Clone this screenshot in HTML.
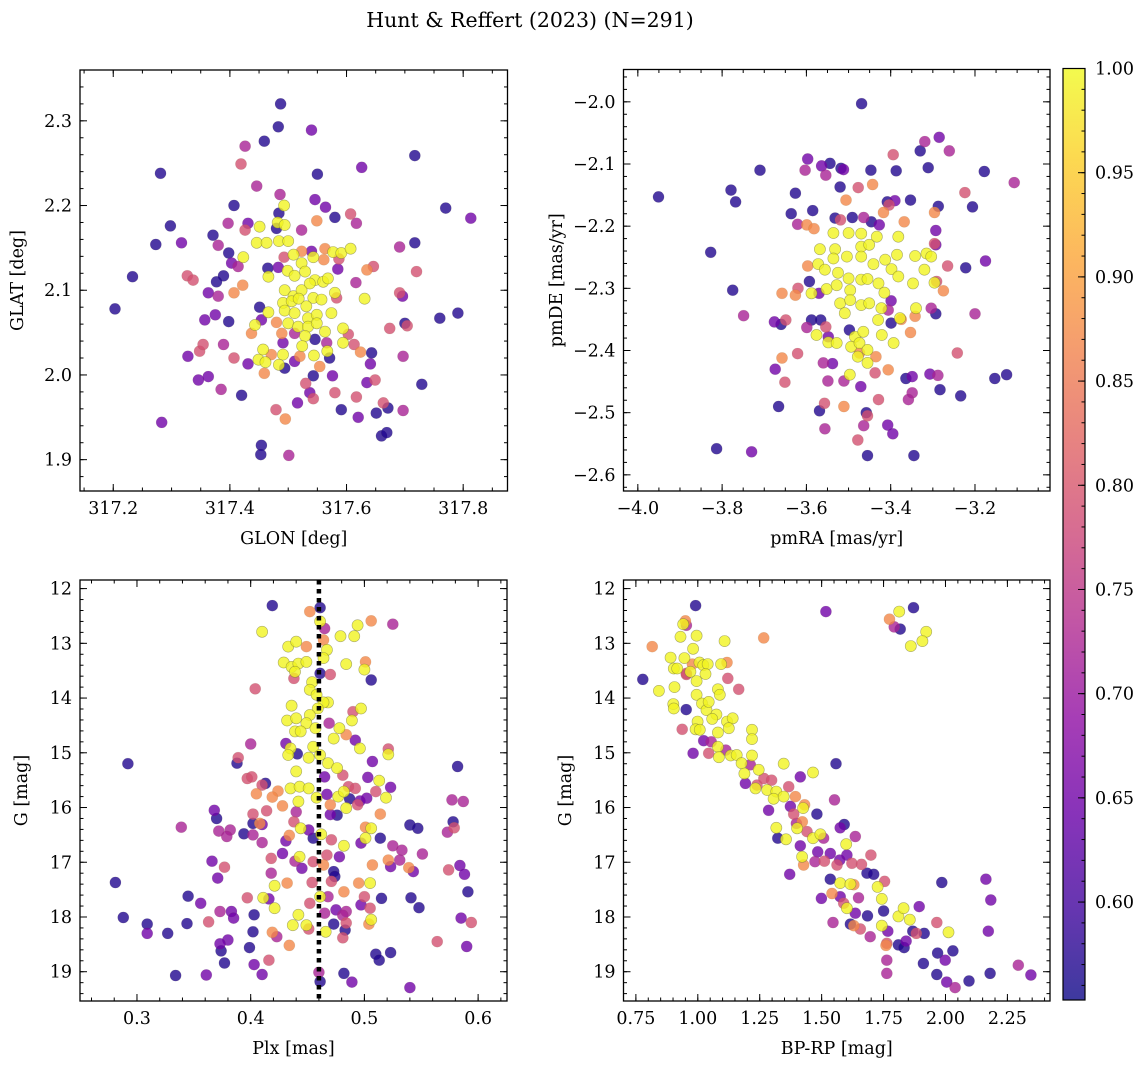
<!DOCTYPE html>
<html><head><meta charset="utf-8"><style>
html,body{margin:0;padding:0;background:#fff;}
svg{display:block;font-family:"DejaVu Serif","Liberation Serif",serif;}
</style></head><body>
<svg id="fig" width="1148" height="1068" viewBox="0 0 1148 1068" xmlns="http://www.w3.org/2000/svg">
<defs><linearGradient id="plasmaGrad" x1="0" y1="1" x2="0" y2="0"></linearGradient></defs>
<text x="530" y="27" font-size="20.5" text-anchor="middle">Hunt &amp; Reffert (2023) (N=291)</text>
</svg>
<script>
// ---------- data ----------
const glon = [317.487,317.483,317.540,317.459,317.426,317.419,317.281,317.550,317.626,317.717,
317.446,317.486,317.407,317.546,317.564,317.580,317.607,317.617,317.770,317.813,
317.298,317.317,317.273,317.371,317.397,317.380,317.398,317.403,317.414,317.426,
317.431,317.523,317.233,317.327,317.337,317.389,317.377,317.363,317.380,317.407,
317.422,317.203,317.357,317.375,317.398,317.451,317.454,317.437,317.443,317.328,
317.348,317.354,317.389,317.407,317.431,317.346,317.363,317.385,317.420,317.283,
317.454,317.453,317.501,317.479,317.495,317.516,317.530,317.537,317.543,317.543,
317.576,317.580,317.591,317.617,317.620,317.635,317.649,317.651,317.671,317.663,
317.660,317.669,317.697,317.729,317.697,317.674,317.700,317.704,317.760,317.791,
317.691,317.696,317.720,317.691,317.717,317.646,317.635,317.616,317.631,317.624,
317.643,317.641,317.613,317.594,317.603,317.594,317.585,317.587,317.563,317.561,
317.549,317.480,317.484,317.482,317.493,317.494,317.451,317.446,317.463,317.484,
317.500,317.423,317.465,317.483,317.466,317.493,317.509,317.523,317.543,317.540,
317.577,317.591,317.607,317.499,317.511,317.523,317.529,317.546,317.560,317.568,
317.494,317.509,317.523,317.537,317.543,317.557,317.580,317.583,317.491,317.506,
317.518,317.531,317.466,317.494,317.511,317.534,317.549,317.574,317.480,317.500,
317.517,317.534,317.549,317.563,317.489,317.511,317.529,317.546,317.566,317.491,
317.524,317.457,317.471,317.491,317.449,317.461,317.484,317.459,317.494,317.511,
317.520,317.544,317.554,317.567,317.571];
const glat = [2.320,2.293,2.289,2.276,2.270,2.249,2.238,2.237,2.245,2.259,
2.223,2.213,2.200,2.207,2.198,2.186,2.190,2.179,2.197,2.185,
2.176,2.156,2.154,2.165,2.179,2.153,2.144,2.132,2.128,2.171,
2.179,2.171,2.116,2.117,2.112,2.117,2.110,2.097,2.093,2.097,
2.106,2.078,2.065,2.071,2.063,2.080,2.065,2.049,2.059,2.022,
2.028,2.036,2.036,2.020,2.013,1.994,1.998,1.983,1.976,1.944,
1.917,1.906,1.905,1.959,1.948,1.967,1.990,1.979,1.972,1.999,
1.999,1.979,1.959,1.974,1.950,1.991,1.994,1.955,1.961,1.967,
1.928,1.932,1.958,1.989,2.022,2.055,2.061,2.058,2.067,2.073,
2.097,2.093,2.122,2.151,2.156,2.128,2.124,2.109,2.090,2.027,
2.026,2.013,2.036,2.038,2.048,2.055,2.125,2.137,2.149,2.136,
2.182,2.173,2.191,2.180,2.200,2.177,2.175,2.156,2.156,2.158,
2.158,2.139,2.126,2.127,2.116,2.139,2.142,2.146,2.139,2.146,
2.145,2.144,2.149,2.123,2.117,2.132,2.122,2.112,2.110,2.114,
2.100,2.093,2.100,2.108,2.091,2.089,2.097,2.091,2.085,2.087,
2.090,2.081,2.074,2.076,2.073,2.067,2.071,2.073,2.062,2.061,
2.057,2.057,2.061,2.051,2.049,2.049,2.046,2.042,2.038,2.038,
2.034,2.030,2.024,2.024,2.018,2.015,2.012,2.002,2.008,2.016,
2.022,2.023,2.010,2.028,2.020];
const prob1 = [.57,.57,.65,.57,.72,.79,.57,.57,.65,.57,
.72,.72,.57,.65,.65,.57,.79,.72,.57,.65,
.57,.65,.57,.57,.72,.72,.57,.65,.72,.79,
.65,.72,.57,.79,.79,.57,.57,.65,.72,.87,
.87,.57,.65,.65,.57,.57,.65,.87,.995,.65,
.79,.79,.72,.79,.65,.65,.65,.72,.57,.65,
.57,.57,.72,.79,.87,.65,.79,.65,.79,.57,
.65,.79,.57,.79,.65,.65,.79,.57,.57,.79,
.57,.57,.72,.57,.72,.79,.57,.79,.57,.57,
.79,.65,.79,.72,.57,.79,.87,.72,.995,.87,
.57,.65,.79,.995,.79,.995,.65,.79,.87,.87,
.87,.57,.57,.995,.995,.995,.995,.995,.995,.995,
.995,.995,.57,.65,.995,.79,.995,.87,.995,.65,
.995,.995,.995,.995,.995,.995,.995,.995,.995,.995,
.995,.995,.995,.995,.995,.995,.995,.79,.995,.995,
.995,.995,.995,.995,.995,.995,.995,.995,.87,.995,
.995,.995,.995,.995,.87,.72,.995,.57,.72,.65,
.995,.995,.87,.995,.995,.995,.995,.87,.57,.65,
.87,.995,.87,.995,.57];

const pmra = [-3.951,-3.469,-3.710,-3.779,-3.768,-3.827,-3.775,-3.749,-3.813,-3.730,
-3.597,-3.603,-3.564,-3.544,-3.554,-3.518,-3.512,-3.520,-3.477,-3.443,
-3.447,-3.387,-3.394,-3.330,-3.319,-3.285,-3.261,-3.311,-3.178,-3.107,
-3.626,-3.636,-3.585,-3.621,-3.599,-3.582,-3.506,-3.532,-3.519,-3.491,
-3.464,-3.446,-3.427,-3.417,-3.408,-3.404,-3.390,-3.353,-3.368,-3.296,
-3.287,-3.293,-3.224,-3.206,-3.293,-3.296,-3.265,-3.222,-3.175,-3.275,
-3.291,-3.200,-3.293,-3.304,-3.342,-3.353,-3.242,-3.307,-3.288,-3.153,
-3.125,-3.283,-3.234,-3.364,-3.349,-3.349,-3.358,-3.406,-3.437,-3.429,
-3.471,-3.458,-3.455,-3.464,-3.407,-3.395,-3.478,-3.455,-3.345,-3.511,
-3.497,-3.549,-3.560,-3.538,-3.557,-3.569,-3.556,-3.511,-3.666,-3.651,
-3.674,-3.658,-3.621,-3.676,-3.660,-3.649,-3.599,-3.588,-3.566,-3.554,
-3.548,-3.498,-3.593,-3.658,-3.626,-3.620,-3.597,-3.570,-3.399,-3.375,
-3.406,-3.399,
-3.536,-3.500,-3.470,-3.433,-3.382,-3.568,-3.532,-3.504,-3.470,-3.451,
-3.470,-3.441,-3.413,-3.385,-3.342,-3.315,-3.304,-3.536,-3.572,-3.556,
-3.525,-3.500,-3.470,-3.455,-3.429,-3.398,-3.382,-3.320,-3.296,-3.347,
-3.552,-3.528,-3.496,-3.588,-3.415,-3.520,-3.496,-3.470,-3.451,-3.509,
-3.422,-3.430,-3.378,-3.340,-3.576,-3.548,-3.528,-3.485,-3.465,-3.421,
-3.393,-3.494,-3.474,-3.455,-3.478,-3.455,-3.474,-3.435];
const pmde = [-2.153,-2.003,-2.110,-2.142,-2.161,-2.242,-2.303,-2.344,-2.558,-2.563,
-2.092,-2.110,-2.103,-2.099,-2.118,-2.107,-2.109,-2.137,-2.138,-2.133,
-2.110,-2.111,-2.085,-2.079,-2.064,-2.057,-2.079,-2.106,-2.112,-2.130,
-2.147,-2.180,-2.175,-2.197,-2.198,-2.204,-2.158,-2.187,-2.190,-2.186,
-2.186,-2.193,-2.198,-2.178,-2.161,-2.166,-2.159,-2.158,-2.193,-2.178,
-2.168,-2.207,-2.146,-2.169,-2.230,-2.228,-2.264,-2.267,-2.256,-2.304,
-2.289,-2.341,-2.341,-2.332,-2.345,-2.371,-2.404,-2.438,-2.440,-2.445,
-2.439,-2.463,-2.473,-2.445,-2.442,-2.468,-2.479,-2.431,-2.436,-2.479,
-2.458,-2.500,-2.505,-2.521,-2.520,-2.534,-2.544,-2.569,-2.569,-2.449,
-2.439,-2.449,-2.420,-2.421,-2.485,-2.497,-2.526,-2.490,-2.490,-2.451,
-2.430,-2.412,-2.405,-2.354,-2.358,-2.351,-2.363,-2.351,-2.351,-2.362,
-2.378,-2.367,-2.289,-2.308,-2.311,-2.300,-2.264,-2.308,-2.356,-2.350,
-2.335,-2.320,
-2.211,-2.211,-2.212,-2.217,-2.217,-2.237,-2.237,-2.249,-2.233,-2.230,
-2.249,-2.261,-2.254,-2.246,-2.248,-2.244,-2.249,-2.252,-2.261,-2.270,
-2.275,-2.284,-2.286,-2.285,-2.292,-2.269,-2.281,-2.270,-2.291,-2.292,
-2.301,-2.295,-2.303,-2.308,-2.307,-2.324,-2.319,-2.327,-2.324,-2.340,
-2.332,-2.351,-2.348,-2.332,-2.375,-2.387,-2.388,-2.378,-2.370,-2.375,
-2.388,-2.394,-2.388,-2.399,-2.410,-2.420,-2.404,-2.410];
const prob2 = [.57,.57,.57,.57,.57,.57,.57,.72,.57,.65,
.65,.72,.65,.57,.72,.57,.65,.57,.79,.87,
.57,.57,.79,.57,.72,.65,.72,.57,.57,.72,
.57,.57,.57,.72,.87,.87,.87,.57,.79,.57,
.72,.57,.65,.87,.57,.79,.65,.57,.87,.87,
.57,.65,.79,.57,.65,.79,.79,.57,.65,.87,
.79,.72,.57,.72,.87,.87,.79,.65,.72,.57,
.57,.57,.57,.57,.65,.72,.72,.87,.79,.79,
.65,.57,.79,.72,.65,.65,.79,.57,.57,.72,
.995,.72,.72,.65,.79,.57,.72,.87,.57,.79,
.65,.87,.79,.65,.57,.79,.72,.57,.57,.79,
.65,.57,.57,.87,.87,.79,.87,.65,.57,.87,
.72,.65,
.995,.995,.995,.995,.995,.995,.995,.995,.995,.995,
.995,.995,.995,.995,.995,.995,.995,.995,.995,.995,
.995,.995,.995,.995,.995,.995,.995,.995,.995,.995,
.995,.995,.995,.995,.995,.995,.995,.995,.995,.995,
.995,.995,.995,.995,.995,.995,.995,.995,.995,.995,
.995,.995,.995,.995,.995,.995,.87,.87];

const plx = [0.419,0.452,0.461,0.461,0.465,0.410,0.494,0.506,0.525,0.479,
0.491,0.464,0.433,0.440,0.449,0.467,0.429,0.436,0.442,0.449,
0.439,0.464,0.484,0.501,0.500,0.470,0.461,0.438,0.506,0.404,
0.454,0.452,0.458,0.468,0.464,0.436,0.459,0.497,0.490,0.432,
0.440,0.452,0.449,0.469,0.489,0.439,0.444,0.457,0.473,0.478,
0.484,0.492,0.496,0.431,0.435,0.400,0.433,0.441,0.455,0.461,
0.451,0.521,0.521,0.389,0.388,0.292,0.507,0.582,0.468,0.476,
0.440,0.465,0.481,0.503,0.513,0.523,0.397,0.401,0.413,0.410,
0.405,0.424,0.419,0.428,0.435,0.443,0.451,0.458,0.442,0.467,
0.470,0.477,0.482,0.486,0.492,0.487,0.496,0.502,0.510,0.519,
0.484,0.494,0.514,0.577,0.587,0.368,0.370,0.339,0.402,0.402,
0.414,0.408,0.410,0.440,0.438,0.444,0.470,0.476,0.372,0.382,
0.379,0.394,0.402,0.410,0.431,0.434,0.451,0.455,0.462,0.471,
0.482,0.497,0.501,0.506,0.501,0.514,0.525,0.533,0.540,0.547,
0.573,0.578,0.579,0.551,0.531,0.521,0.523,0.507,0.539,0.543,
0.574,0.584,0.588,0.591,0.366,0.377,0.371,0.281,0.418,0.428,
0.418,0.421,0.432,0.439,0.443,0.445,0.455,0.454,0.464,0.467,
0.478,0.473,0.474,0.471,0.482,0.495,0.505,0.461,0.468,0.452,
0.442,0.449,0.437,0.451,0.465,0.475,0.484,0.481,0.484,0.473,
0.466,0.483,0.481,0.497,0.500,0.505,0.506,0.504,0.515,0.541,
0.548,0.585,0.594,0.590,0.564,0.523,0.510,0.513,0.540,0.489,
0.482,0.460,0.461,0.411,0.421,0.416,0.397,0.403,0.402,0.419,
0.423,0.434,0.399,0.416,0.403,0.410,0.377,0.380,0.373,0.374,
0.373,0.383,0.385,0.363,0.356,0.345,0.344,0.327,0.309,0.309,
0.288,0.334,0.361];
const gmag3 = [12.31,12.42,12.35,12.60,12.73,12.79,12.67,12.59,12.65,12.87,
12.87,12.94,13.06,12.97,13.06,13.12,13.35,13.43,13.37,13.34,
13.52,13.27,13.38,13.34,13.48,13.57,13.55,13.64,13.67,13.83,
13.71,13.85,13.94,14.08,14.08,14.14,14.19,14.19,14.25,14.41,
14.37,14.31,14.46,14.46,14.41,14.61,14.61,14.55,14.74,14.55,
14.67,14.77,14.92,14.83,14.92,14.84,15.04,15.02,14.89,15.04,
15.09,14.93,15.03,15.09,15.19,15.20,15.16,15.25,15.19,15.28,
15.34,15.44,15.41,15.45,15.51,15.63,15.47,15.44,15.56,15.59,
15.75,15.70,15.81,15.97,15.65,15.62,15.65,15.82,15.89,15.76,
15.95,15.80,15.71,15.62,15.65,15.84,15.88,15.83,15.71,15.82,
16.01,15.95,16.12,15.86,15.89,16.05,16.20,16.36,16.12,16.29,
16.06,16.29,16.31,16.08,16.26,16.38,16.13,16.14,16.43,16.41,
16.53,16.48,16.50,16.64,16.61,16.51,16.41,16.56,16.49,16.59,
16.70,16.65,16.36,16.38,16.56,16.56,16.70,16.78,16.32,16.38,
16.45,16.26,16.37,16.85,16.96,16.96,17.08,17.05,17.10,17.17,
17.14,17.06,17.22,17.54,16.98,17.09,17.29,17.37,16.93,16.84,
17.20,17.43,17.38,16.98,16.90,17.11,16.99,17.37,17.05,16.87,
16.90,17.17,17.26,17.35,17.54,17.38,17.38,17.63,17.63,17.75,
17.96,18.15,18.15,18.22,17.93,17.87,17.90,17.97,18.11,18.13,
18.27,18.24,18.38,17.78,17.63,17.84,18.05,18.13,17.66,17.65,
17.83,18.02,18.10,18.54,18.45,18.65,18.68,18.79,19.29,19.19,
19.03,19.01,19.18,17.65,17.84,17.67,17.65,17.96,18.27,18.28,
18.36,18.52,18.56,18.79,18.87,19.05,18.84,18.42,18.49,18.62,
17.90,17.90,18.02,18.09,17.75,17.62,18.12,18.30,18.13,18.30,
18.01,19.07,19.06];
const prob3 = [.57,.87,.57,.995,.72,.995,.995,.87,.72,.995,
.995,.87,.995,.995,.87,.995,.995,.995,.995,.995,
.995,.995,.995,.87,.995,.79,.57,.79,.57,.79,
.995,.995,.995,.995,.995,.995,.995,.995,.79,.995,
.995,.995,.995,.72,.995,.995,.995,.995,.995,.995,
.87,.65,.995,.65,.995,.72,.995,.57,.995,.995,
.995,.79,.995,.79,.57,.57,.65,.57,.995,.995,
.995,.65,.79,.65,.995,.65,.79,.79,.57,.79,
.87,.87,.87,.87,.995,.995,.995,.995,.995,.65,
.87,.995,.995,.79,.79,.57,.65,.65,.79,.995,
.995,.79,.87,.72,.72,.65,.57,.72,.79,.57,
.79,.87,.65,.72,.79,.995,.65,.57,.72,.72,
.72,.57,.72,.72,.65,.87,.65,.57,.995,.79,
.995,.65,.87,.995,.995,.57,.72,.72,.57,.57,
.72,.57,.79,.72,.72,.87,.65,.87,.87,.65,
.79,.65,.65,.57,.65,.79,.65,.57,.79,.65,
.72,.995,.87,.72,.995,.65,.79,.79,.87,.79,
.65,.57,.57,.79,.87,.87,.995,.995,.72,.79,
.995,.995,.995,.79,.72,.65,.72,.72,.79,.57,
.995,.57,.79,.65,.79,.79,.995,.87,.57,.57,
.57,.65,.79,.65,.79,.57,.57,.57,.65,.65,
.57,.72,.57,.995,.995,.65,.79,.57,.57,.87,
.72,.87,.57,.79,.65,.65,.57,.65,.65,.57,
.72,.65,.65,.79,.65,.57,.57,.57,.57,.65,
.57,.57,.65];
const plxRef = 0.46;

const bprp = [0.991,1.517,1.871,1.813,1.774,1.793,1.817,1.922,1.907,1.860,
0.950,0.954,0.941,0.930,0.995,1.108,1.266,0.816,0.981,0.890,
0.946,0.903,0.917,1.007,1.022,1.040,1.094,1.118,0.970,0.954,
1.031,0.778,0.995,1.121,0.843,0.906,1.081,1.089,1.165,0.995,
0.901,0.903,0.953,1.017,1.035,1.044,1.075,1.058,0.999,1.118,
1.141,0.937,0.991,1.008,1.081,1.125,1.219,1.219,1.024,0.981,
1.044,1.081,1.085,1.054,1.113,1.133,1.157,1.177,1.219,1.188,
1.192,1.212,1.246,1.347,1.465,1.414,1.558,1.233,1.239,1.267,
1.298,1.280,1.317,1.306,1.347,1.367,1.394,1.286,1.374,1.425,
1.431,1.387,1.481,1.552,1.422,1.317,1.323,1.356,1.401,1.398,
1.441,1.465,1.495,1.508,1.575,1.591,1.636,1.414,1.421,1.484,
1.427,1.473,1.371,1.511,1.535,1.562,1.573,1.599,1.602,1.622,
1.661,1.699,1.683,1.710,1.535,1.575,1.616,1.630,1.726,1.754,
1.542,1.575,1.649,1.743,1.499,1.602,1.589,1.636,1.685,1.750,
1.743,1.616,1.630,1.656,1.696,1.546,1.767,1.763,1.760,1.763,
1.763,1.810,1.831,1.856,1.894,1.868,1.882,1.914,1.810,1.833,
1.841,1.911,1.965,2.012,1.985,2.030,1.968,1.999,1.965,2.005,
2.039,2.095,2.180,2.163,2.183,2.173,2.294,2.345,0.978,0.954];
const gmag4 = [12.31,12.42,12.35,12.42,12.56,12.70,12.74,12.79,12.96,13.05,
12.59,12.67,12.65,12.88,12.86,12.96,12.90,13.06,13.10,13.26,
13.27,13.46,13.46,13.35,13.40,13.38,13.38,13.35,13.52,13.57,
13.56,13.66,13.69,13.64,13.87,13.80,13.84,13.94,13.84,13.94,
14.11,14.19,14.21,14.10,14.22,14.07,14.30,14.38,14.43,14.43,
14.37,14.57,14.57,14.58,14.63,14.55,14.58,14.75,14.78,15.01,
15.01,14.89,15.08,14.80,14.95,15.05,15.04,15.19,15.05,15.38,
15.56,15.22,15.31,15.20,15.36,15.44,15.20,15.65,15.59,15.47,
15.50,15.68,15.71,15.84,15.80,15.62,15.80,16.05,15.98,16.01,
15.95,16.12,16.12,15.86,16.26,16.37,16.56,16.58,16.38,16.29,
16.44,16.56,16.49,16.56,16.37,16.31,16.53,16.70,16.90,16.81,
17.05,16.99,17.22,16.98,16.84,17.05,16.96,16.67,16.87,17.02,
17.04,16.87,17.20,17.22,17.31,17.38,17.40,17.41,17.45,17.35,
17.57,17.63,17.65,17.67,17.66,17.84,17.75,17.93,17.98,17.89,
18.16,18.13,18.16,18.22,18.36,18.10,18.26,18.48,18.52,18.79,
19.03,17.99,17.84,18.05,17.81,18.26,18.30,18.30,18.51,18.56,
18.44,18.85,18.10,18.28,17.37,18.62,18.66,18.79,19.05,19.19,
19.29,19.17,19.03,17.31,17.69,18.26,18.88,19.06,13.38,13.55];
const prob4 = [.57,.65,.57,.995,.87,.72,.57,.995,.995,.995,
.87,.72,.995,.995,.995,.995,.87,.87,.995,.995,
.995,.995,.995,.995,.995,.995,.995,.87,.995,.79,
.995,.57,.995,.79,.995,.995,.995,.995,.79,.995,
.995,.995,.57,.995,.995,.995,.995,.995,.995,.995,
.995,.79,.995,.995,.995,.995,.995,.995,.65,.65,
.79,.995,.995,.72,.72,.995,.995,.995,.995,.995,
.65,.72,.995,.995,.995,.65,.57,.995,.79,.79,
.79,.995,.995,.995,.995,.79,.87,.65,.65,.995,
.87,.79,.57,.72,.87,.995,.57,.995,.995,.72,
.79,.995,.995,.72,.65,.57,.72,.65,.995,.65,
.87,.72,.65,.79,.65,.79,.65,.995,.65,.79,
.79,.79,.57,.57,.57,.995,.995,.87,.995,.79,
.87,.65,.72,.995,.65,.995,.79,.65,.57,.57,
.995,.57,.87,.79,.72,.72,.65,.79,.87,.72,
.72,.995,.995,.995,.65,.57,.79,.57,.57,.57,
.65,.57,.79,.995,.57,.57,.57,.65,.57,.65,
.72,.57,.57,.65,.65,.65,.72,.65,.87,.79];

// tick labels
const p1XTicks = [317.2,317.4,317.6,317.8];
const p1XLabels = ["317.2","317.4","317.6","317.8"];
const p1YTicks = [1.9,2.0,2.1,2.2,2.3];
const p1YLabels = ["1.9","2.0","2.1","2.2","2.3"];
const p2XTicks = [-4.0,-3.8,-3.6,-3.4,-3.2];
const p2XLabels = ["\u22124.0","\u22123.8","\u22123.6","\u22123.4","\u22123.2"];
const p2YTicks = [-2.0,-2.1,-2.2,-2.3,-2.4,-2.5,-2.6];
const p2YLabels = ["\u22122.0","\u22122.1","\u22122.2","\u22122.3","\u22122.4","\u22122.5","\u22122.6"];
const p3XTicks = [0.3,0.4,0.5,0.6];
const p3XLabels = ["0.3","0.4","0.5","0.6"];
const gTicks = [12,13,14,15,16,17,18,19];
const gLabels = ["12","13","14","15","16","17","18","19"];
const p4XTicks = [0.75,1.0,1.25,1.5,1.75,2.0,2.25];
const p4XLabels = ["0.75","1.00","1.25","1.50","1.75","2.00","2.25"];
const cbTicks = [0.60,0.65,0.70,0.75,0.80,0.85,0.90,0.95,1.00];
const cbLabels = ["0.60","0.65","0.70","0.75","0.80","0.85","0.90","0.95","1.00"];
const cMin = 0.553, cMax = 1.0;

// ---------- rendering ----------
const NS = "http://www.w3.org/2000/svg";
const svg = document.getElementById('fig');
const FS = 17.5;
const plasmaStops = ["#0d0887","#41049d","#6a00a8","#8f0da4","#b12a90","#cc4778","#e16462","#f2844b","#fca636","#fcce25","#f0f921"];
function hex(h){return [parseInt(h.substr(1,2),16),parseInt(h.substr(3,2),16),parseInt(h.substr(5,2),16)];}
function plasma(t){
  t=Math.max(0,Math.min(1,t));
  const s=t*10, i=Math.min(9,Math.floor(s)), f=s-i;
  const a=hex(plasmaStops[i]), b=hex(plasmaStops[i+1]);
  return 'rgb('+a.map((v,k)=>Math.round(v+(b[k]-v)*f)).join(',')+')';
}
function colorOf(p){return plasma((p-cMin)/(cMax-cMin));}
function el(tag, attrs, parent){
  const e=document.createElementNS(NS,tag);
  for(const k in attrs) e.setAttribute(k,attrs[k]);
  (parent||svg).appendChild(e);
  return e;
}
function linScale(d0,d1,r0,r1){return v=>r0+(v-d0)*(r1-r0)/(d1-d0);}

function panel(name, box, xd, yd, xT, xL, yT, yL, xMinor, yMinor, xs, ys, ps, xlabel, ylabel, ylabelX){
  const g=el('g',{});
  
  
  const sx=linScale(xd[0],xd[1],box.x0,box.x1);
  const sy=linScale(yd[0],yd[1],box.y0,box.y1);
  const clipId=name+'-clip';
  const cp=el('clipPath',{id:clipId},g);
  el('rect',{x:box.x0,y:box.y0,width:box.x1-box.x0,height:box.y1-box.y0},cp);
  const pts=el('g',{'clip-path':'url(#'+clipId+')'},g);
  
  
  const idx=ps.map((p,i)=>i).sort((a,b)=>ps[a]-ps[b]);
  idx.forEach(i=>{
    const c=el('circle',{cx:sx(xs[i]).toFixed(1),cy:sy(ys[i]).toFixed(1),r:5.6,fill:colorOf(ps[i]),'fill-opacity':0.8,stroke:'#6b6b3a','stroke-opacity':ps[i]>0.9?0.55:0.15,'stroke-width':0.6},pts);
    
    
  });
  const tk=el('g',{stroke:'#000','stroke-width':1},g);
  const xlo=Math.min(xd[0],xd[1]), xhi=Math.max(xd[0],xd[1]);
  for(let v=Math.ceil(xlo/xMinor-1e-6)*xMinor; v<=xhi+1e-9; v+=xMinor){
    const X=sx(v);
    el('line',{x1:X,y1:box.y1,x2:X,y2:box.y1-3.5},tk); el('line',{x1:X,y1:box.y0,x2:X,y2:box.y0+3.5},tk);
  }
  const ylo=Math.min(yd[0],yd[1]), yhi=Math.max(yd[0],yd[1]);
  for(let v=Math.ceil(ylo/yMinor-1e-6)*yMinor; v<=yhi+1e-9; v+=yMinor){
    const Y=sy(v);
    el('line',{x1:box.x0,y1:Y,x2:box.x0+3.5,y2:Y},tk); el('line',{x1:box.x1,y1:Y,x2:box.x1-3.5,y2:Y},tk);
  }
  xT.forEach((v,i)=>{
    const X=sx(v);
    el('line',{x1:X,y1:box.y1,x2:X,y2:box.y1-7},tk); el('line',{x1:X,y1:box.y0,x2:X,y2:box.y0+7},tk);
    const t=el('text',{x:X,y:box.y1+23,'font-size':FS,'text-anchor':'middle'},g);
    t.textContent=xL[i];
    
    
  });
  yT.forEach((v,i)=>{
    const Y=sy(v);
    el('line',{x1:box.x0,y1:Y,x2:box.x0+7,y2:Y},tk); el('line',{x1:box.x1,y1:Y,x2:box.x1-7,y2:Y},tk);
    const t=el('text',{x:box.x0-8,y:Y+6,'font-size':FS,'text-anchor':'end'},g);
    t.textContent=yL[i];
    
    
  });
  const fr=el('rect',{x:box.x0,y:box.y0,width:box.x1-box.x0,height:box.y1-box.y0,fill:'none',stroke:'#000','stroke-width':1.3},g);
  
  
  const xl=el('text',{x:(box.x0+box.x1)/2,y:box.y1+53,'font-size':FS,'text-anchor':'middle'},g);
  xl.textContent=xlabel;
  
  
  const cy=(box.y0+box.y1)/2;
  const yl=el('text',{x:ylabelX,y:cy,'font-size':FS,'text-anchor':'middle',transform:'rotate(-90 '+ylabelX+' '+cy+')'},g);
  yl.textContent=ylabel;
  
  
  return {sx,sy,g};
}

panel('glon-glat-panel',{x0:80,x1:507.5,y0:70,y1:491},[317.143,317.876],[2.360,1.863],
  p1XTicks,p1XLabels,p1YTicks,p1YLabels,0.05,0.02,glon,glat,prob1,'GLON [deg]','GLAT [deg]',23);
panel('pm-panel',{x0:623.5,x1:1050,y0:69.5,y1:491},[-4.034,-3.022],[-1.948,-2.626],
  p2XTicks,p2XLabels,p2YTicks,p2YLabels,0.05,0.02,pmra,pmde,prob2,'pmRA [mas/yr]','pmDE [mas/yr]',562);
const p3=panel('plx-g-panel',{x0:80,x1:507,y0:580,y1:1001},[0.2499,0.6254],[11.843,19.535],
  p3XTicks,p3XLabels,gTicks,gLabels,0.02,0.2,plx,gmag3,prob3,'Plx [mas]','G [mag]',27);
const ref=el('line',{x1:p3.sx(plxRef),x2:p3.sx(plxRef),y1:580,y2:1001,stroke:'#000','stroke-width':4.5,'stroke-dasharray':'4.5,4.5'},p3.g);


panel('cmd-panel',{x0:623.5,x1:1050,y0:580,y1:1001},[0.700,2.422],[11.843,19.535],
  p4XTicks,p4XLabels,gTicks,gLabels,0.05,0.2,bprp,gmag4,prob4,'BP-RP [mag]','G [mag]',571);

// colorbar
const grad=document.getElementById('plasmaGrad');
plasmaStops.forEach((c,i)=>{el('stop',{offset:(i*10)+'%','stop-color':c},grad);});
const cb=el('g',{});


const cbBox={x0:1063,x1:1085,y0:68.5,y1:1000};
el('rect',{x:cbBox.x0,y:cbBox.y0,width:cbBox.x1-cbBox.x0,height:cbBox.y1-cbBox.y0,fill:'url(#plasmaGrad)','fill-opacity':0.8},cb);
el('rect',{x:cbBox.x0,y:cbBox.y0,width:cbBox.x1-cbBox.x0,height:cbBox.y1-cbBox.y0,fill:'none',stroke:'#000','stroke-width':1.2},cb);
const cs=linScale(cMin,cMax,cbBox.y1,cbBox.y0);
for(let v=Math.ceil(cMin*100)/100; v<=cMax+1e-9; v+=0.01){
  el('line',{x1:cbBox.x1,x2:cbBox.x1-3.5,y1:cs(v),y2:cs(v),stroke:'#000','stroke-width':1},cb);
}
cbTicks.forEach((v,i)=>{
  el('line',{x1:cbBox.x1,x2:cbBox.x1-7,y1:cs(v),y2:cs(v),stroke:'#000','stroke-width':1},cb);
  const t=el('text',{x:cbBox.x1+10,y:cs(v)+6,'font-size':FS},cb);
  t.textContent=cbLabels[i];
  
  
});
</script>
</body></html>
